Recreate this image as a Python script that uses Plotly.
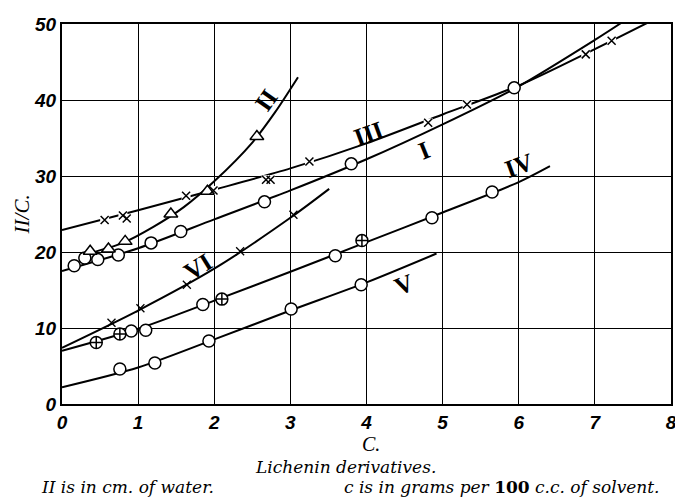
import plotly.graph_objects as go

# ---- data ----
# curve knots (fitted lines)
I_cx = [0, 1, 2, 3, 4, 5, 6, 7, 7.34]
I_cy = [17.5, 20.5, 24.3, 28.1, 32.2, 36.8, 41.8, 47.9, 50.1]
II_cx = [0.35, 0.8, 1.2, 1.6, 2.0, 2.5, 2.8, 3.1]
II_cy = [19.8, 21.2, 23.3, 25.9, 29.3, 34.4, 38.4, 43.0]
III_cx = [0, 1, 2, 3, 4, 5, 6, 7, 7.7]
III_cy = [22.9, 25.5, 28.2, 31.0, 34.3, 38.1, 41.9, 46.7, 50.2]
IV_cx = [0, 1, 2, 3, 4, 5, 6, 6.41]
IV_cy = [7.0, 9.9, 13.6, 17.4, 21.3, 25.2, 29.2, 31.3]
V_cx = [0, 1, 2, 3, 4, 4.92]
V_cy = [2.2, 4.8, 8.5, 12.3, 16.0, 19.8]
VI_cx = [0, 1, 2, 3, 3.51]
VI_cy = [7.4, 12.3, 17.8, 24.5, 28.3]

# observed points
I_x = [0.16, 0.30, 0.47, 0.74, 1.17, 1.56, 2.66, 3.80, 5.94]
I_y = [18.2, 19.2, 19.0, 19.6, 21.2, 22.7, 26.6, 31.6, 41.6]
II_x = [0.37, 0.61, 0.83, 1.43, 1.91, 2.56]
II_y = [20.1, 20.4, 21.4, 25.0, 28.0, 35.2]
III_x = [0.56, 0.80, 0.85, 1.63, 1.99, 2.68, 2.74, 3.25, 4.81, 5.32, 6.88, 7.22]
III_y = [24.2, 24.8, 24.4, 27.4, 28.1, 29.5, 29.5, 31.9, 37.0, 39.4, 46.0, 47.8]
IV_x = [0.91, 1.10, 1.85, 3.59, 4.86, 5.65]
IV_y = [9.6, 9.7, 13.1, 19.5, 24.5, 27.9]
IVc_x = [0.45, 0.76, 2.10, 3.94]
IVc_y = [8.1, 9.2, 13.8, 21.5]
V_x = [0.76, 1.22, 1.93, 3.01, 3.93]
V_y = [4.6, 5.4, 8.3, 12.5, 15.7]
VI_x = [0.65, 1.03, 1.64, 2.34, 3.04]
VI_y = [10.7, 12.6, 15.7, 20.1, 24.9]

labels = ["II", "III", "I", "VI", "IV", "V"]
label_x = [2.68, 4.03, 4.75, 1.79, 6.0, 4.49]
label_y = [39.9, 35.6, 33.4, 18.1, 31.4, 15.7]
label_ang = [-55, -20, -22, -32, -20, -22]

x_ticks = [0, 1, 2, 3, 4, 5, 6, 7, 8]
y_ticks = [0, 10, 20, 30, 40, 50]

BLACK = "black"
fig = go.Figure()

def curve(xs, ys):
    fig.add_trace(go.Scatter(x=xs, y=ys, mode="lines",
                             line=dict(color=BLACK, width=2, shape="spline", smoothing=0.8),
                             hoverinfo="skip", showlegend=False))

# III first, with white gaps around its crosses
curve(III_cx, III_cy)
fig.add_trace(go.Scatter(x=III_x, y=III_y, mode="markers",
                         marker=dict(symbol="square", size=9, color="white", line=dict(width=0)),
                         showlegend=False, hoverinfo="skip"))
for cx, cy in [(I_cx, I_cy), (II_cx, II_cy), (IV_cx, IV_cy), (V_cx, V_cy), (VI_cx, VI_cy)]:
    curve(cx, cy)

def pts(xs, ys, sym, size, fill="white", lw=1.5):
    fig.add_trace(go.Scatter(x=xs, y=ys, mode="markers",
                             marker=dict(symbol=sym, size=size, color=fill,
                                         line=dict(color=BLACK, width=lw)),
                             showlegend=False))

pts(I_x, I_y, "circle", 12)
pts(II_x, II_y, "triangle-up", 12)
pts(III_x, III_y, "x-thin", 8, fill=BLACK, lw=1.5)
pts(IV_x, IV_y, "circle", 12)
pts(IVc_x, IVc_y, "circle-cross", 12)
pts(V_x, V_y, "circle", 12)
pts(VI_x, VI_y, "x-thin", 8, fill=BLACK, lw=1.3)

for t, lx, ly, a in zip(labels, label_x, label_y, label_ang):
    fig.add_annotation(x=lx, y=ly, text="<b>" + t + "</b>", showarrow=False, textangle=a,
                       font=dict(family="Liberation Serif", size=25, color=BLACK))

tickfont = dict(family="Liberation Sans", size=19, color=BLACK)
axis_common = dict(showline=True, linecolor=BLACK, linewidth=2, mirror=True,
                   showgrid=True, gridcolor=BLACK, gridwidth=1.2, zeroline=False,
                   ticks="", tickfont=tickfont)

fig.update_xaxes(range=[0, 8], tickvals=x_ticks,
                 ticktext=["<b><i>%d</i></b>" % v for v in x_ticks], **axis_common)
fig.update_yaxes(range=[0, 50], tickvals=y_ticks,
                 ticktext=["<b><i>%d</i></b>" % v for v in y_ticks], **axis_common)

serif = "Liberation Serif"
cap = "DejaVu Serif"
# axis titles and captions
fig.add_annotation(xref="paper", yref="paper", x=0.507, xanchor="center", y=-0.105, yanchor="middle",
                   text="<i>C.</i>", showarrow=False,
                   font=dict(family=serif, size=20, color=BLACK))
fig.add_annotation(xref="paper", yref="paper", x=-0.065, xanchor="center", y=0.50, yanchor="middle",
                   text="<i>II/C.</i>", showarrow=False, textangle=-90,
                   font=dict(family=serif, size=21, color=BLACK))
fig.add_annotation(xref="paper", yref="paper", x=0.466, xanchor="center", y=-0.165, yanchor="middle",
                   text="<i>Lichenin derivatives.</i>", showarrow=False,
                   font=dict(family=cap, size=17, color=BLACK))
fig.add_annotation(xref="paper", yref="paper", x=-0.037, xanchor="left", y=-0.218, yanchor="middle",
                   text="<i>II is in cm. of water.</i>", showarrow=False,
                   font=dict(family=cap, size=17, color=BLACK))
fig.add_annotation(xref="paper", yref="paper", x=0.985, xanchor="right", y=-0.218, yanchor="middle",
                   text="<i>c is in grams per</i> <b>100</b> <i>c.c. of solvent.</i>",
                   showarrow=False,
                   font=dict(family=cap, size=17, color=BLACK))

# page body has an 8px margin; figure sized so it fits the 683x499 window
fig.update_layout(width=675, height=491, margin=dict(l=54, r=6, t=11, b=95),
                  paper_bgcolor="white", plot_bgcolor="white")

fig.write_html("out.html")
